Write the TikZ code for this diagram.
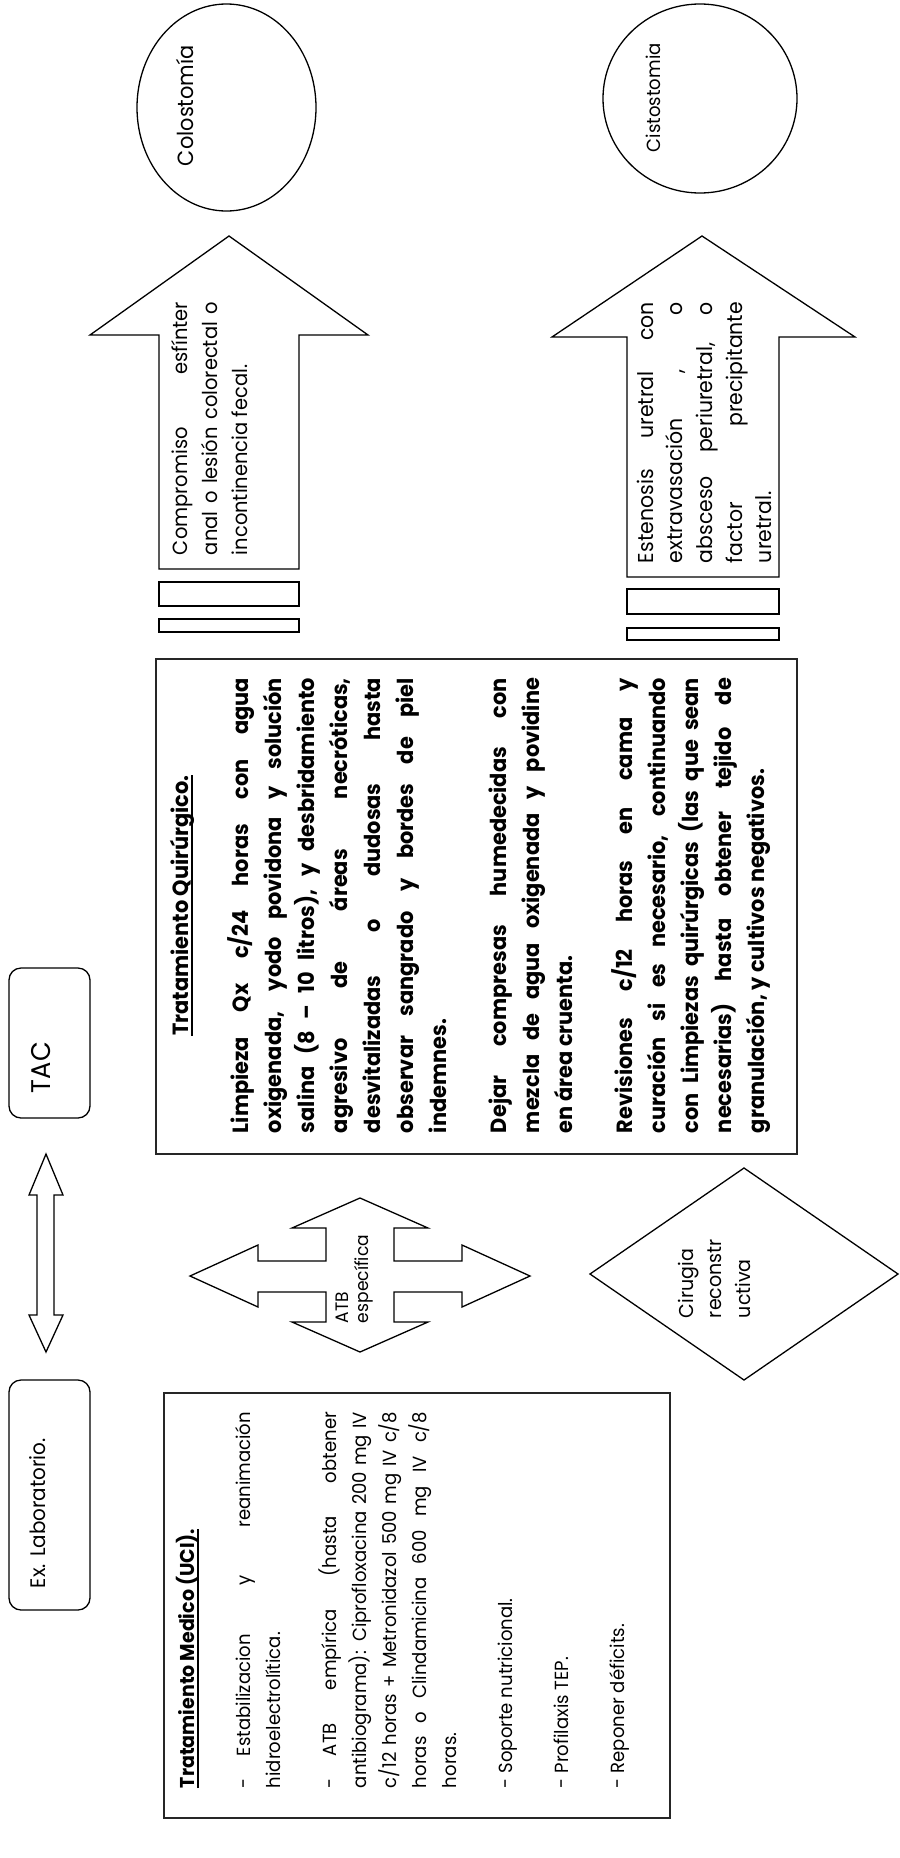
\documentclass[tikz,border=0pt]{standalone}
\usepackage{fontspec}
\setmainfont{Poppins}[FakeStretch=0.95]
\usetikzlibrary{shapes.geometric}
\newcommand\myul[1]{\setbox0\hbox{#1}\leavevmode\rlap{\rule[-4.5bp]{\wd0}{1.3bp}}\box0}
\tikzset{
  every node/.style={inner sep=0pt, outer sep=0pt},
  shp/.style={draw=black, line width=1.3bp, line join=miter},
  bigbox/.style={draw=black!85, line width=1.8bp},
  rbox/.style={draw=black, line width=1.3bp, rounded corners=12bp},
  rtxt/.style={rotate=90, anchor=base west},
  rpar/.style={rotate=90, anchor=base west, text width=#1, align=justify},
}
\begin{document}
\begin{tikzpicture}[x=1bp,y=-1bp]
\useasboundingbox (0,0) rectangle (900,1858);
\fill[white] (0,0) rectangle (900,1858);

% ellipses
\node[shp, ellipse, minimum width=179bp, minimum height=207bp] (colo) at (226.5,107.5) {};
\node[rtxt, font=\fontsize{22bp}{26bp}\selectfont] (colot) at (193,166) {Colostomía};
\node[shp, ellipse, minimum width=194bp, minimum height=189bp] (cisto) at (700,98.5) {};
\node[rtxt, font=\fontsize{19bp}{22bp}\selectfont] (cistot) at (660,152) {Cistostomia};

% up arrows
\draw[shp] (159,569) -- (159,335) -- (90,335) -- (229,236) -- (368,335) -- (299,335) -- (299,569) -- cycle;
\node[rpar=253bp, font=\fontsize{20.5bp}{30bp}\selectfont] (compro) at (187,555)
  {Compromiso esfínter\linebreak anal o lesión colorectal o\linebreak incontinencia fecal.};
\draw[shp] (627,577) -- (627,337) -- (552,337) -- (702,236) -- (855,337) -- (779,337) -- (779,577) -- cycle;
\node[rpar=261bp, font=\fontsize{21.5bp}{29.7bp}\selectfont] (esten) at (653,563)
  {Estenosis uretral con\linebreak extravasación , o\linebreak absceso periuretral, o\linebreak factor precipitante\linebreak uretral.};

% small bars
\draw[shp] (159,582) rectangle (299,606);
\draw[shp] (159,619) rectangle (299,632);
\draw[shp] (627,589) rectangle (779,614);
\draw[shp] (627,628) rectangle (779,640);

% Tratamiento Quirurgico
\draw[bigbox] (156,659) rectangle (797,1154);
\node[rpar=455bp, font=\fontsize{22bp}{33bp}\selectfont\bfseries] (quir) at (188,1133)
  {\setlength{\parskip}{27bp}{\centering\myul{Tratamiento Quirúrgico.}\par}
  Limpieza Qx c/24 horas con agua\linebreak oxigenada, yodo povidona y solución\linebreak salina (8 – 10 litros), y desbridamiento\linebreak agresivo de áreas necróticas,\linebreak desvitalizadas o dudosas hasta\linebreak observar sangrado y bordes de piel\linebreak indemnes.\par
  Dejar compresas humedecidas con\linebreak mezcla de agua oxigenada y povidine\linebreak en área cruenta.\par
  Revisiones c/12 horas en cama y\linebreak curación si es necesario, continuando\linebreak con Limpiezas quirúrgicas (las que sean\linebreak necesarias) hasta obtener tejido de\linebreak granulación, y cultivos negativos.};

% TAC and Ex. Laboratorio
\draw[rbox] (9,968) rectangle (90,1118);
\node[rtxt, font=\fontsize{27bp}{30bp}\selectfont] (tac) at (50,1093) {TAC};
\draw[rbox] (9,1380) rectangle (90,1610);
\node[rtxt, font=\fontsize{21bp}{25bp}\selectfont] (lab) at (45,1588) {Ex. Laboratorio.};

% double arrow
\draw[shp] (46,1154) -- (63,1195) -- (54,1195) -- (54,1315) -- (63,1315) -- (46,1352) -- (29,1315) -- (37,1315) -- (37,1195) -- (29,1195) -- cycle;

% four-way arrow
\draw[shp] (360,1198) -- (428,1228) -- (394,1228) -- (394,1261) -- (462,1261) -- (462,1245) -- (530,1276) -- (462,1307) -- (462,1292) -- (394,1292) -- (394,1322) -- (428,1322) -- (360,1352) -- (292,1322) -- (326,1322) -- (326,1292) -- (258,1292) -- (258,1307) -- (190,1276) -- (258,1245) -- (258,1261) -- (326,1261) -- (326,1228) -- (292,1228) -- cycle;
\node[rotate=90, anchor=base west, text width=100bp, align=left, font=\fontsize{18bp}{20.5bp}\selectfont] (atb) at (348,1323) {ATB\\específica};

% diamond
\draw[shp] (590,1274) -- (744,1168) -- (898,1274) -- (744,1380) -- cycle;
\node[rotate=90, anchor=base west, text width=100bp, align=left, font=\fontsize{20bp}{28.5bp}\selectfont] (ciru) at (693,1318) {Cirugia\\reconstr\\uctiva};

% Tratamiento Medico
\draw[bigbox] (164,1393) rectangle (670,1818);
\node[rpar=376bp, font=\fontsize{19bp}{30bp}\selectfont] (med) at (194,1788)
  {\setlength{\parskip}{26bp}\myul{\bfseries\fontsize{20bp}{30bp}\selectfont Tratamiento Medico (UCI).}\par
  -\hspace{22bp}Estabilizacion y reanimación\linebreak hidroelectrolítica.\par
  -\hspace{22bp}ATB empírica (hasta obtener\linebreak antibiograma): Ciprofloxacina 200 mg IV\linebreak c/12 horas + Metronidazol 500 mg IV c/8\linebreak horas o Clindamicina 600 mg IV c/8\linebreak horas.\par
  - Soporte nutricional.\par
  - Profilaxis TEP.\par
  - Reponer déficits.};
\end{tikzpicture}
\end{document}
